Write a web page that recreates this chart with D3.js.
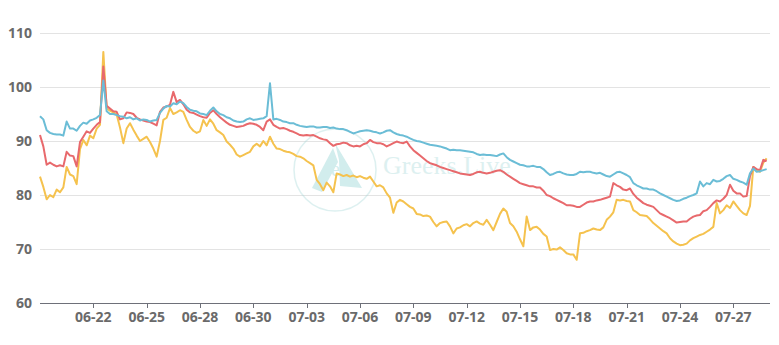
<!DOCTYPE html>
<html><head><meta charset="utf-8">
<script src="https://cdn.jsdelivr.net/npm/d3@7"></script>
<style>body{margin:0;background:#fff;}svg{display:block;}</style>
</head><body><svg id="c" width="779" height="345"></svg>
<script>
// data: one point every 4.5 hours (16 points per 3 days)
const blueSeries = [94.6,94.0,92.0,91.5,91.3,91.2,91.2,91.0,93.6,92.3,92.3,91.9,92.8,93.4,93.2,93.8,94.0,94.3,94.8,101.2,
95.5,95.0,95.0,94.8,94.6,94.5,94.2,94.4,94.0,94.2,93.8,94.0,93.9,93.6,93.8,93.9,95.2,96.0,96.5,96.4,
97.0,96.8,97.3,97.0,96.3,95.8,95.6,95.5,95.1,95.0,94.8,95.6,96.2,95.5,95.0,94.8,94.4,94.2,93.8,93.6,
93.5,93.6,94.0,94.2,93.9,94.0,94.1,94.2,94.6,100.7,94.0,94.1,93.9,93.6,93.5,93.3,93.3,93.0,92.8,92.7,
92.6,92.7,92.7,92.5,92.5,92.6,92.6,92.4,92.5,92.3,92.2,92.2,92.0,91.7,91.4,91.6,91.8,91.9,92.0,91.9,
91.7,91.6,91.4,91.6,91.9,92.0,91.6,91.3,91.1,91.0,90.8,90.5,90.2,90.0,89.9,89.7,89.5,89.3,89.2,89.1,
89.0,88.8,88.6,88.3,88.4,88.3,88.3,88.2,88.1,88.0,87.9,87.6,87.4,87.5,87.4,87.4,87.3,87.2,87.5,87.7,
87.0,86.5,86.2,85.9,85.6,85.5,85.3,85.3,85.4,85.2,85.2,84.8,84.2,83.7,83.9,84.2,84.3,84.0,83.8,83.7,
83.7,83.9,84.3,84.2,84.3,84.3,84.1,84.0,84.1,83.8,83.5,83.4,83.8,84.2,84.3,84.0,83.7,83.3,82.2,81.8,
81.5,81.2,81.2,81.0,81.0,80.7,80.3,80.0,79.7,79.4,79.1,78.9,79.0,79.3,79.5,79.8,80.0,80.3,82.5,81.6,
82.2,82.0,82.8,82.5,82.6,83.0,83.5,83.7,83.0,82.8,82.5,82.3,81.9,84.0,84.9,84.3,84.4,84.6,84.8];
const redSeries = [91.1,89.0,85.6,86.0,85.6,85.3,85.5,85.3,88.0,87.3,87.2,85.3,89.8,90.8,91.8,91.5,92.3,93.0,93.5,103.8,
96.5,96.0,95.5,95.4,94.0,94.2,95.3,95.2,95.0,94.3,94.0,93.8,93.6,93.5,93.2,92.9,95.4,96.2,96.4,96.7,
99.1,97.2,97.6,96.8,95.8,95.3,95.2,94.9,94.6,94.4,94.3,95.2,95.7,95.0,94.4,93.9,93.4,93.0,92.8,92.6,
92.7,92.8,93.1,93.3,93.2,93.0,92.6,92.0,93.6,94.0,93.0,92.6,92.3,92.4,92.2,91.9,91.7,91.4,91.1,91.0,
91.1,91.0,91.1,90.8,90.5,90.3,90.2,89.6,89.1,89.4,89.5,89.7,89.6,89.2,89.0,89.1,89.0,89.4,89.6,90.2,
89.8,89.6,89.6,89.4,89.0,89.3,89.6,89.9,89.7,89.6,89.9,89.0,88.3,87.8,87.3,86.8,86.3,85.9,85.7,85.5,
85.2,85.0,84.8,84.6,84.4,84.2,84.0,83.9,83.8,83.7,83.9,84.2,84.3,84.1,84.0,84.1,84.3,84.5,84.6,84.3,
83.8,83.4,83.0,82.6,82.2,82.0,81.8,81.6,81.6,81.4,81.4,80.8,80.0,79.8,79.4,79.1,78.8,78.5,78.1,78.1,
78.0,77.8,77.8,78.2,78.6,78.8,78.8,79.0,79.1,79.3,79.5,79.7,82.2,81.8,81.5,81.0,80.9,81.2,80.2,79.5,
79.0,78.5,78.2,78.0,77.8,77.2,76.6,76.3,76.0,75.7,75.3,74.9,75.0,75.1,75.1,75.6,76.0,76.2,76.3,77.0,
77.2,77.8,78.5,79.0,78.8,79.3,80.0,81.9,80.8,80.3,80.3,79.7,79.8,83.5,85.2,84.8,84.6,86.5,86.3];
const yellowSeries = [83.4,81.5,79.2,80.0,79.6,81.0,80.5,81.4,85.2,83.8,83.5,82.0,88.5,90.2,89.2,91.0,90.5,92.3,93.0,106.5,
96.0,95.6,95.3,94.9,92.5,89.6,92.3,93.3,92.1,91.0,90.0,90.4,90.8,89.8,88.6,87.1,90.0,93.9,94.3,96.1,
95.0,95.3,95.7,95.4,93.9,92.6,91.9,91.5,91.8,93.9,92.8,94.0,93.2,92.0,91.6,91.1,89.9,89.3,88.6,87.5,
87.1,87.4,87.7,88.0,89.0,89.5,89.0,90.0,89.2,90.8,89.5,88.6,88.5,88.2,88.0,87.9,87.6,87.2,87.1,86.8,
86.3,85.9,85.5,82.8,82.0,80.9,82.3,81.6,80.5,84.0,83.8,83.5,83.7,83.4,83.6,83.3,83.5,83.2,83.0,83.4,
82.5,81.6,81.8,81.4,80.3,79.5,76.7,78.6,79.1,78.8,78.3,77.8,77.5,76.5,76.4,76.1,76.2,76.0,75.0,74.2,
74.8,75.0,75.1,74.2,72.9,73.8,74.0,74.4,74.6,74.2,74.8,75.1,74.7,74.5,75.4,74.5,73.5,75.0,76.5,77.5,
76.9,74.8,74.2,73.2,71.8,70.5,76.0,73.5,74.0,74.1,73.6,72.8,72.3,69.8,70.0,69.9,70.3,69.8,69.2,69.0,
69.0,68.0,72.9,73.0,73.3,73.5,73.8,73.6,73.5,74.0,75.4,76.0,76.8,79.1,79.0,79.1,78.9,78.8,77.2,76.8,
76.3,76.2,76.1,75.5,74.8,74.3,73.8,73.3,72.9,72.0,71.4,71.0,70.7,70.8,71.0,71.6,72.0,72.3,72.6,72.8,
73.2,73.6,74.1,78.5,76.6,77.2,78.1,77.6,78.8,78.0,77.2,76.6,76.3,78.0,85.2,84.6,84.3,86.0,86.8];
const tickLabels = ["06-22","06-25","06-28","06-30","07-03","07-06","07-09","07-12","07-15","07-18","07-21","07-24","07-27"];
const tickIndex = [16,32,48,64,80,96,112,128,144,160,176,192,208];
const yTicks = [60,70,80,90,100,110];
const axisLength = 219;

const svg = d3.select("#c");
const m = {l:40, r:9, t:33, b:42};
const W = 779, H = 345;
const x = d3.scaleLinear().domain([0, axisLength]).range([m.l, W - m.r]);
const y = d3.scaleLinear().domain([60, 110]).range([H - m.b, m.t]);

// grid
svg.append("g").selectAll("line").data(yTicks.slice(1)).join("line")
  .attr("x1", m.l).attr("x2", W - m.r)
  .attr("y1", d => Math.round(y(d)) + 0.5).attr("y2", d => Math.round(y(d)) + 0.5)
  .attr("stroke", "#e3e3e3").attr("stroke-width", 1);

// y labels
svg.append("g").selectAll("text").data(yTicks).join("text")
  .attr("x", 32).attr("y", d => y(d)).attr("dy", "0.36em")
  .attr("text-anchor", "end")
  .attr("font-family", "'Noto Sans', sans-serif").attr("font-weight", "bold")
  .attr("font-size", 14).attr("fill", "#6a6a6a").text(d => d);

// watermark
const wm = svg.append("g").attr("opacity", 0.35);
wm.append("circle").attr("cx", 335).attr("cy", 170).attr("r", 41)
  .attr("fill", "none").attr("stroke", "#9fd6d6").attr("stroke-width", 1.5);
wm.append("path").attr("d", "M312,188 L333,148 L338,162 L322,192 Z").attr("fill", "#7fcccc");
wm.append("path").attr("d", "M335,143 L362,188 L340,186 L339,160 Z").attr("fill", "#7fcccc");
wm.append("text").attr("x", 331).attr("y", 176).attr("font-family", "'Liberation Serif', serif")
  .attr("font-size", 20).attr("fill", "#7fcccc").text("e");
wm.append("text").attr("x", 383).attr("y", 174)
  .attr("font-family", "'Liberation Serif', serif").attr("font-size", 26)
  .attr("fill", "#9fd6d6").text("Greeks.Live");

// lines
const line = d3.line().x((d, i) => x(i)).y(d => y(d));
[[yellowSeries, "#f5c24e"], [redSeries, "#e8696c"], [blueSeries, "#6bbdd6"]].forEach(([s, c]) => {
  svg.append("path").datum(s).attr("d", line).attr("fill", "none")
    .attr("stroke", c).attr("stroke-width", 2).attr("stroke-linejoin", "round");
});

// x axis
const ax = svg.append("g");
ax.append("line").attr("x1", m.l).attr("x2", W - m.r)
  .attr("y1", H - m.b + 0.5).attr("y2", H - m.b + 0.5).attr("stroke", "#6e7079").attr("stroke-width", 1);
ax.selectAll(".tk").data(tickIndex).join("line").attr("class", "tk")
  .attr("x1", d => Math.round(x(d)) + 0.5).attr("x2", d => Math.round(x(d)) + 0.5)
  .attr("y1", H - m.b).attr("y2", H - m.b + 5).attr("stroke", "#6e7079");
ax.selectAll("text").data(tickIndex).join("text")
  .attr("x", d => x(d)).attr("y", 322).attr("text-anchor", "middle")
  .attr("font-family", "'Noto Sans', sans-serif").attr("font-weight", "bold")
  .attr("font-size", 14).attr("fill", "#6a6a6a").text((d, i) => tickLabels[i]);
</script></body></html>
